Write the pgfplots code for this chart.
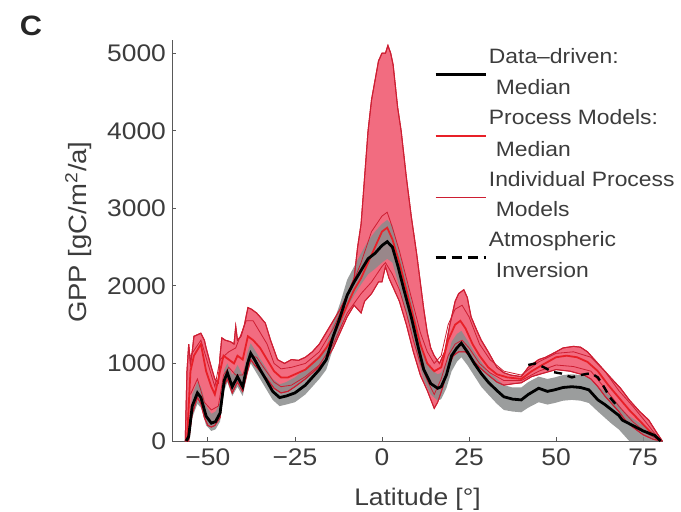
\documentclass[border=0pt]{standalone}
\usepackage{pgfplots}
\pgfplotsset{compat=1.18}
\usepackage{pgfplotstable}
\usepgfplotslibrary{fillbetween}
\usepackage{fontspec}
\setmainfont[FakeStretch=1.1]{Liberation Sans}
\definecolor{bandred}{RGB}{242,108,128}
\definecolor{edgered}{RGB}{205,30,50}
\definecolor{medred}{RGB}{232,32,40}
\definecolor{bandgray}{RGB}{138,140,140}
\definecolor{txt}{RGB}{60,60,60}

\pgfplotstableread{
lat val
-56.5 0
-56 900
-55.5 1250
-55 1000
-54.5 1150
-54 1350
-52 1390
-51 1300
-50.5 1200
-49 950
-48 800
-47 750
-46.5 1100
-46 1330
-45 1300
-43.5 1280
-42.5 1250
-42 1480
-41.5 1300
-40.5 1350
-39.5 1500
-38.5 1720
-37.5 1700
-36 1650
-35 1600
-33.5 1520
-32 1300
-30 1050
-28 1000
-26 1050
-24 1040
-22 1080
-20 1150
-18 1250
-16 1400
-14 1550
-12 1700
-10 1880
-8 2100
-7 2500
-6 2800
-5 3400
-4 4000
-3 4400
-2 4650
-1 4900
0 5000
1 5000
1.7 5100
2.5 5000
3.2 4850
4.5 4300
5.5 4000
7 3400
8.4 2900
10 2400
11 2050
12 1700
13 1400
14 1200
15 1100
16.5 1000
18 1150
19.5 1500
21 1800
22 1900
23.5 1950
24.5 1850
25.6 1600
27 1450
28.5 1300
30.5 1150
33 950
35 880
37 850
40 830
42 950
43.5 1000
45 1050
47 1080
50 1150
52 1200
55 1220
57 1210
59 1150
61 1050
63 950
66 800
68.5 680
71 530
74 380
76.6 270
79 100
80.5 0
}\redupper

\pgfplotstableread{
lat val
-56.5 0
-55.5 0
-54.5 350
-53 560
-52 480
-51 300
-50 200
-49 180
-48 200
-46.5 300
-45.5 700
-44.4 800
-43 620
-41.5 760
-40 640
-38.6 900
-37.7 1050
-36.6 980
-35 900
-33 800
-31 680
-29 620
-27 640
-25 700
-22 800
-20 880
-18 960
-16 1050
-14 1200
-12 1400
-10 1600
-8 1750
-6 1650
-5 1800
-3 1900
-1 2050
0 2050
1 2250
2 2100
3 2000
5 1800
7 1500
9 1150
11 850
13 650
15 420
16 500
17.5 700
19 950
20.5 1100
22 1150
24 1150
26 1050
28 950
30.5 850
33 760
35 720
38 740
40 750
43 830
46 870
50 920
54 900
58 850
60 800
62 700
64 580
66 480
68 380
70 260
72 180
75 80
78 20
80.5 0
}\redlower

\pgfplotstableread{
lat val
-56 0
-55 900
-54 1100
-52 1250
-50.5 900
-49 700
-48 600
-46.5 900
-45.5 1100
-44 1050
-42.5 1000
-41.5 1100
-40 1050
-38.5 1350
-37 1300
-35 1200
-33 1050
-31 900
-29 820
-27 820
-25 860
-22 920
-20 1000
-18 1080
-16 1200
-14 1350
-12 1550
-10 1750
-8 1950
-6 2100
-4 2300
-2 2500
0 2700
1.5 2750
3 2600
5 2300
7 1950
9 1600
11 1250
13 1000
15 900
17 950
19 1300
21 1500
22.5 1550
24 1450
26 1250
28 1100
30.5 950
33 860
36 820
40 800
43 900
46 980
50 1080
53 1100
56 1080
59 1020
62 900
65 720
68 560
71 400
74 260
77 120
80 0
}\redmedian

\pgfplotstableread{
lat val
-55 1100
-52 1300
-50 1000
-48 700
-46.5 1050
-44 1150
-42 1200
-39 1550
-37 1550
-35 1400
-33 1250
-31 1000
-29 930
-26 950
-22 1000
-18 1150
-14 1450
-10 1850
-6 2300
-3 2700
0 2900
1.5 2950
3 2750
5 2450
7 2100
9 1750
11 1400
13 1150
15 1000
17 1100
19 1500
21 1700
23 1750
25 1600
28 1250
31 1050
35 900
40 850
45 1020
50 1130
55 1150
60 1080
64 900
68 650
72 450
76 230
80 0
}\modelA

\pgfplotstableread{
lat val
-55 600
-53 800
-51 500
-49 400
-47 450
-45.5 850
-44 950
-42 850
-40 850
-38 1100
-36 1080
-34 950
-31 760
-29 700
-26 720
-22 830
-18 980
-14 1250
-10 1650
-6 1900
-3 2050
0 2250
1 2300
3 2150
5 1950
7 1650
9 1300
11 1000
13 780
15 600
17 800
19 1100
21 1250
23 1300
25 1200
28 1000
31 880
35 780
40 780
45 900
50 980
55 960
60 900
64 680
68 450
72 250
76 100
80 0
}\modelB

\pgfplotstableread{
lat lo hi
-56.2 0 0
-55.5 0 150
-54.5 300 600
-53 480 760
-52 430 700
-51.5 360 620
-50.5 200 450
-49 130 350
-47.8 150 380
-46.5 250 500
-45.3 650 920
-44.4 760 1000
-43 580 850
-41.5 700 980
-40 580 850
-38.6 870 1150
-37.7 1000 1260
-36.6 920 1180
-35 800 1060
-33.4 680 950
-31.4 530 800
-29.4 450 730
-27.5 470 760
-25 500 820
-22 600 930
-20 700 1020
-18 800 1100
-16 920 1220
-14 1200 1520
-12 1450 1780
-10 1720 2080
-8 1880 2250
-6 2020 2420
-4 2150 2580
-2 2220 2700
0 2300 2800
1.5 2350 2850
3 2300 2780
4.6 2050 2500
6.3 1750 2200
8.4 1420 1820
10.4 1050 1420
12 780 1120
14 600 920
16 520 860
17 540 880
18.5 680 1020
20 900 1280
21.5 1020 1380
22.8 1080 1420
24.5 980 1300
26.5 840 1150
28.5 700 1020
30.5 600 900
33 480 800
35 400 720
37.5 380 690
40 370 690
42 430 760
45 500 830
47.5 470 800
49.6 490 820
52 520 850
54.5 530 860
57 520 850
59.4 490 820
62 380 700
64 300 640
66 220 560
68 150 470
69 100 400
71 0 320
72 0 290
75 0 200
78.4 0 100
80 0 0
}\grayband

\pgfplotstableread{
lat val
-56.2 0
-55.5 60
-54.5 450
-53 620
-52 560
-51.5 480
-50.5 320
-49 230
-47.8 250
-46.5 360
-45.3 780
-44.4 880
-43 700
-41.5 830
-40 700
-38.6 1000
-37.7 1130
-36.6 1050
-35 920
-33.4 800
-31.4 640
-29.4 560
-27.5 580
-25 620
-22 720
-20 820
-18 920
-16 1050
-14 1350
-12 1600
-10 1880
-8 2050
-6 2200
-4 2350
-2 2420
0 2520
1.5 2570
3 2500
4.6 2250
6.3 1950
8.4 1600
10.4 1210
12 920
14 740
16 680
17 700
18.5 850
20 1100
21.5 1200
22.8 1260
24.5 1150
26.5 1000
28.5 870
30.5 760
33 650
35 570
37.5 540
40 530
42 600
45 680
47.5 640
49.6 660
52 690
54.5 700
57 690
59.4 660
62 530
64 470
66 400
68 330
69 270
72 200
75 130
78.4 70
80 0
}\blackmedian

\pgfplotstableread{
lat val
42 980
44 1000
46.5 950
49 890
51.5 870
54.5 820
57 850
60 875
62 820
63.7 700
65.5 560
67 480
}\inversion

\begin{document}
\begin{tikzpicture}
\node[font=\bfseries\fontsize{14}{14}\selectfont, text=black!85] at (15.5pt,242.5pt) {C};
\begin{axis}[
  at={(86pt,35pt)}, anchor=south west,
  scale only axis,
  width=245.5pt, height=200.5pt,
  xmin=-60.3, xmax=80.7, ymin=0, ymax=5170,
  axis x line=bottom, axis y line=left,
  axis line style={-, draw=black!65, line width=0.5pt},
  tick align=inside,
  major tick length=2pt,
  tick style={draw=black!65, line width=0.4pt},
  xtick={-50,-25,0,25,50,75},
  xticklabels={−50,−25,0,25,50,75},
  ytick={0,1000,2000,3000,4000,5000},
  yticklabels={0,1000,2000,3000,4000,5000},
  ticklabel style={font=\fontsize{12}{13}\selectfont, text=txt},
  xticklabel style={yshift=-0.5pt},
  yticklabel style={xshift=0.5pt},
  xlabel={Latitude [°]},
  ylabel={GPP [gC/m\textsuperscript{2}/a]},
  xlabel style={font=\fontsize{12}{13}\selectfont, text=txt,
    at={(axis description cs:0.5,-0.145)}, anchor=center},
  ylabel style={font=\fontsize{12.5}{14}\selectfont, text=txt,
    at={(axis description cs:-0.191,0.521)}, anchor=center},
  clip=false,
  legend style={at={(0.533,0.99)}, anchor=north west, draw=none, fill=none,
    font=\fontsize{10.4}{12}\selectfont, text=txt,
    row sep=0pt, inner sep=0pt,
    nodes={inner sep=0pt, text height=9.5pt, text depth=5.5pt},
    /tikz/every odd column/.append style={column sep=1pt}},
  legend cell align=left,
  legend image code/.code={\draw[#1] (0pt,-7.5pt) -- (25pt,-7.5pt);},
]
\addlegendimage{black, line width=1.4pt}
\addlegendentry{Data--driven:}
\addlegendimage{empty legend}
\addlegendentry{\hspace{3.5pt}Median}
\addlegendimage{medred, line width=1.2pt}
\addlegendentry{Process Models:}
\addlegendimage{empty legend}
\addlegendentry{\hspace{3.5pt}Median}
\addlegendimage{edgered, line width=0.4pt}
\addlegendentry{Individual Process}
\addlegendimage{empty legend}
\addlegendentry{\hspace{3.5pt}Models}
\addlegendimage{black, line width=1.4pt, dash pattern=on 5pt off 3pt}
\addlegendentry{Atmospheric}
\addlegendimage{empty legend}
\addlegendentry{\hspace{3.5pt}Inversion}

\addplot[name path=ru, draw=edgered, line width=0.5pt, forget plot] table[x=lat,y=val]{\redupper};
\addplot[name path=rl, draw=edgered, line width=0.5pt, forget plot] table[x=lat,y=val]{\redlower};
\addplot[fill=bandred, draw=none, forget plot] fill between[of=ru and rl];
\addplot[draw=edgered, line width=0.5pt, forget plot] table[x=lat,y=val]{\redupper};
\addplot[name path=gl, draw=none, forget plot] table[x=lat,y=lo]{\grayband};
\addplot[name path=gh, draw=none, forget plot] table[x=lat,y=hi]{\grayband};
\addplot[fill=bandgray, fill opacity=0.85, draw=none, forget plot] fill between[of=gh and gl];
\addplot[draw=edgered, line width=0.4pt, forget plot] table[x=lat,y=val]{\modelA};
\addplot[draw=edgered, line width=0.4pt, forget plot] table[x=lat,y=val]{\modelB};
\addplot[draw=edgered, line width=0.4pt, forget plot] table[x=lat,y=val]{\redlower};
\addplot[draw=medred, line width=0.9pt, forget plot] table[x=lat,y=val]{\redmedian};
\addplot[draw=black, line width=1.2pt, dash pattern=on 4pt off 3pt, forget plot] table[x=lat,y=val]{\inversion};
\addplot[draw=black, line width=1.4pt, forget plot] table[x=lat,y=val]{\blackmedian};
\end{axis}
\pgfresetboundingbox
\useasboundingbox (0,0) rectangle (340.5pt,255.5pt);
\end{tikzpicture}
\end{document}
